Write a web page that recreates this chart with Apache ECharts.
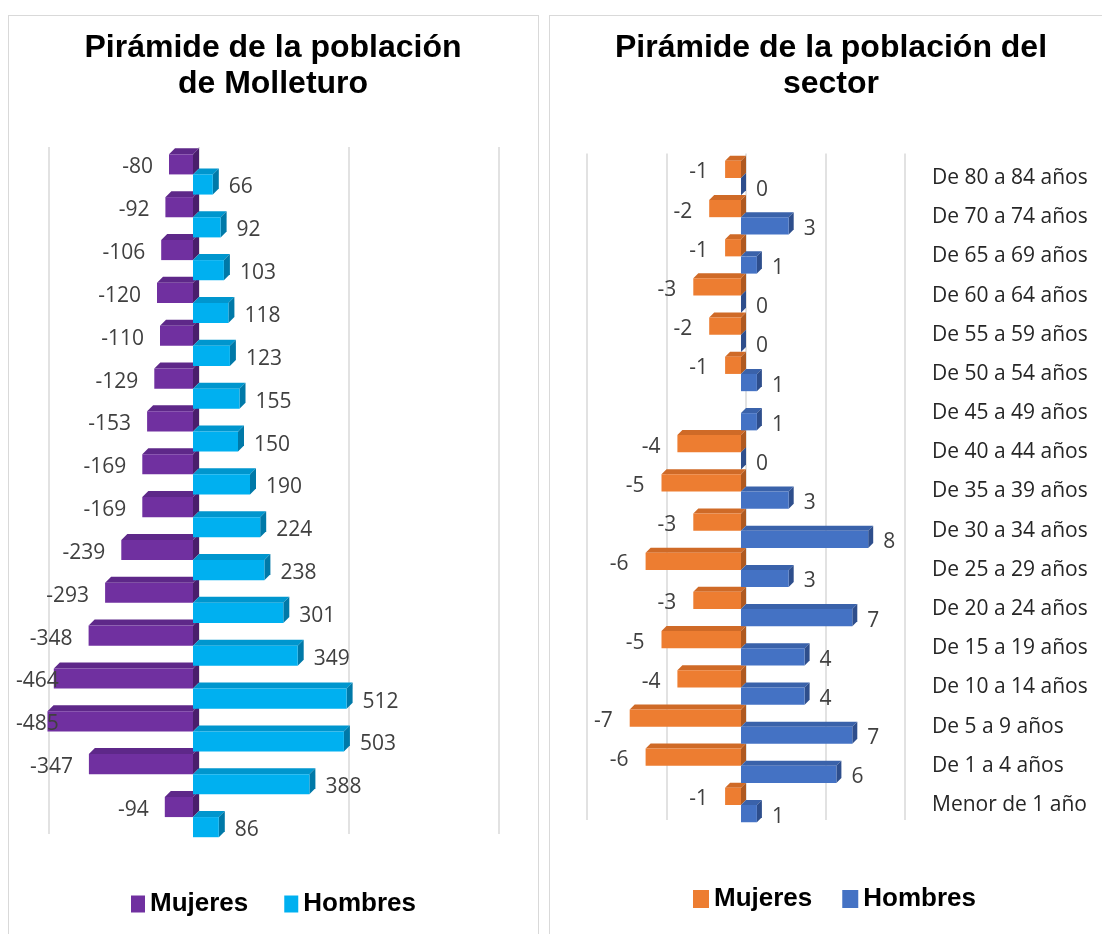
<!DOCTYPE html>
<html>
<head>
<meta charset="UTF-8">
<title>Pirámide de la población</title>
<script src="https://cdn.jsdelivr.net/npm/echarts@6/dist/echarts.min.js"></script>
<style>
  html, body { margin: 0; padding: 0; background: #fff; }
  #main { position: absolute; left: 0; top: 0; width: 1102px; height: 934px; }
  .panel { position: absolute; top: 15px; height: 940px; border: 1.5px solid #d9d9d9; border-bottom: none; box-sizing: border-box; }
</style>
</head>
<body>
<div class="panel" style="left:8px;width:531px;"></div>
<div class="panel" style="left:549px;width:570px;"></div>
<div id="main"></div>

<script>
// ---- datos: Molleturo (arriba -> abajo) ----
var gruposMolleturo = ['70 y más', 'De 65 a 69', 'De 60 a 64', 'De 55 a 59', 'De 50 a 54', 'De 45 a 49',
  'De 40 a 44', 'De 35 a 39', 'De 30 a 34', 'De 25 a 29', 'De 20 a 24', 'De 15 a 19',
  'De 10 a 14', 'De 5 a 9', 'De 1 a 4', 'Menor de 1'];
var mujeresMolleturo = [-80, -92, -106, -120, -110, -129, -153, -169, -169, -239, -293, -348, -464, -485, -347, -94];
var hombresMolleturo = [66, 92, 103, 118, 123, 155, 150, 190, 224, 238, 301, 349, 512, 503, 388, 86];

// ---- datos: sector ----
var gruposSector = ['De 80 a 84 años', 'De 70 a 74 años', 'De 65 a 69 años', 'De 60 a 64 años',
  'De 55 a 59 años', 'De 50 a 54 años', 'De 45 a 49 años', 'De 40 a 44 años', 'De 35 a 39 años',
  'De 30 a 34 años', 'De 25 a 29 años', 'De 20 a 24 años', 'De 15 a 19 años', 'De 10 a 14 años',
  'De 5 a 9 años', 'De 1 a 4 años', 'Menor de 1 año'];
var mujeresSector = [-1, -2, -1, -3, -2, -1, null, -4, -5, -3, -6, -3, -5, -4, -7, -6, -1];
var hombresSector = [0, 3, 1, 0, 0, 1, 1, 0, 3, 8, 3, 7, 4, 4, 7, 6, 1];

var labelFont = '21px "Open Sans"';
var measureCtx = document.createElement('canvas').getContext('2d');
measureCtx.font = labelFont;

// barra con aspecto 3D (cara frontal, superior y lateral)
function barra3d(colors, arriba, ratio, depth, labelGap, minLabelX) {
  return function (params, api) {
    var v = api.value(0);
    if (v === null || isNaN(v)) return;
    var idx = api.value(1);
    var zero = api.coord([0, idx]);
    var end = api.coord([v, idx]);
    var band = api.size([0, 1])[1];
    var h = band * ratio;
    var y0 = arriba ? zero[1] - h : zero[1];
    var y1 = y0 + h;
    var xa = Math.min(zero[0], end[0]);
    var xb = Math.max(zero[0], end[0]);
    var d = depth;

    var texto = String(v);
    var tx, align;
    if (v < 0) {
      tx = xa - labelGap;
      align = 'right';
      var w = measureCtx.measureText(texto).width;
      if (tx - w < minLabelX) { tx = minLabelX; align = 'left'; }
    } else {
      tx = xb + d + labelGap - 6;
      align = 'left';
    }

    return {
      type: 'group',
      children: [
        { type: 'polygon', shape: { points: [[xa, y0], [xb, y0], [xb + d, y0 - d], [xa + d, y0 - d]] },
          style: { fill: colors[1] } },
        { type: 'polygon', shape: { points: [[xb, y0], [xb + d, y0 - d], [xb + d, y1 - d], [xb, y1]] },
          style: { fill: colors[2] } },
        { type: 'rect', shape: { x: xa, y: y0, width: xb - xa, height: h },
          style: { fill: colors[0] } },
        { type: 'text', style: { text: texto, x: tx, y: (y0 + y1) / 2 + 3, align: align,
          verticalAlign: 'middle', fill: '#404040', font: labelFont } }
      ]
    };
  };
}

function pares(arr) {
  return arr.map(function (v, i) { return [v === null ? '-' : v, i]; });
}

var colMujeresM = ['#7030A0', '#5E2889', '#4A1E6C'];
var colHombresM = ['#00B0F0', '#0096CE', '#0079A8'];
var colMujeresS = ['#ED7D31', '#CF6A27', '#AF5920'];
var colHombresS = ['#4472C4', '#3A62AA', '#2E4E8C'];

var tituloStyle = { fontFamily: '"Liberation Sans", Arial', fontWeight: 'bold', fontSize: 32, lineHeight: 36, color: '#000' };
var leyendaStyle = { fontFamily: '"Liberation Sans", Arial', fontWeight: 'bold', fontSize: 26, color: '#000' };
var sinEje = { axisLabel: { show: false }, axisLine: { show: false }, axisTick: { show: false } };
var rejilla = { lineStyle: { color: '#d9d9d9', width: 1.5 } };

var myChart = echarts.init(document.getElementById('main'));

var option = {
  animation: false,
  title: [
    { text: 'Pirámide de la población\nde Molleturo', left: 273, top: 30, textAlign: 'center', padding: 0, textStyle: tituloStyle },
    { text: 'Pirámide de la población del\nsector', left: 831, top: 30, textAlign: 'center', padding: 0, textStyle: tituloStyle }
  ],
  legend: [
    { left: 131, top: 891, padding: 0, itemWidth: 14, itemHeight: 17, itemGap: 36, icon: 'rect', textStyle: leyendaStyle,
      data: [{ name: 'Mujeres', itemStyle: { color: colMujeresM[0] } }, { name: 'Hombres', itemStyle: { color: colHombresM[0] } }] },
    { left: 693, top: 886, padding: 0, itemWidth: 16, itemHeight: 18, itemGap: 30, icon: 'rect', textStyle: leyendaStyle,
      data: [{ name: 'Mujeres', itemStyle: { color: colMujeresS[0] } }, { name: 'Hombres', itemStyle: { color: colHombresS[0] } }] }
  ],
  grid: [
    { left: 43, right: 609, top: 153, bottom: 95.5 },
    { left: 582, right: 202, top: 158.4, bottom: 109.4 },
    // pared del fondo (rejilla desplazada por la profundidad 3D)
    { left: 49, right: 603, top: 147, bottom: 100 },
    { left: 587, right: 197, top: 153.4, bottom: 114 }
  ],
  xAxis: [
    Object.assign({ gridIndex: 0, type: 'value', min: -500, max: 1000, interval: 500, splitLine: { show: false } }, sinEje),
    Object.assign({ gridIndex: 1, type: 'value', min: -10, max: 10, interval: 5, splitLine: { show: false } }, sinEje),
    Object.assign({ gridIndex: 2, type: 'value', min: -500, max: 1000, interval: 500, splitLine: rejilla }, sinEje),
    Object.assign({ gridIndex: 3, type: 'value', min: -10, max: 10, interval: 5, splitLine: rejilla }, sinEje)
  ],
  yAxis: [
    Object.assign({ gridIndex: 0, type: 'category', inverse: true, data: gruposMolleturo }, sinEje),
    { gridIndex: 1, type: 'category', inverse: true, position: 'right', data: gruposSector,
      axisLine: { show: false }, axisTick: { show: false },
      axisLabel: { margin: 32, color: '#262626', fontFamily: '"Open Sans"', fontSize: 21 } },
    Object.assign({ gridIndex: 2, type: 'value', show: false, splitLine: { show: false } }, sinEje),
    Object.assign({ gridIndex: 3, type: 'value', show: false, splitLine: { show: false } }, sinEje)
  ],
  series: [
    { name: 'Mujeres', type: 'custom', xAxisIndex: 0, yAxisIndex: 0, itemStyle: { color: colMujeresM[0] },
      renderItem: barra3d(colMujeresM, true, 0.47, 6, 16, 16), encode: { x: 0, y: 1 }, data: pares(mujeresMolleturo) },
    { name: 'Hombres', type: 'custom', xAxisIndex: 0, yAxisIndex: 0, itemStyle: { color: colHombresM[0] },
      renderItem: barra3d(colHombresM, false, 0.47, 6, 16, 16), encode: { x: 0, y: 1 }, data: pares(hombresMolleturo) },
    { name: 'Mujeres', type: 'custom', xAxisIndex: 1, yAxisIndex: 1, itemStyle: { color: colMujeresS[0] },
      renderItem: barra3d(colMujeresS, true, 0.44, 5, 17, 557), encode: { x: 0, y: 1 }, data: pares(mujeresSector) },
    { name: 'Hombres', type: 'custom', xAxisIndex: 1, yAxisIndex: 1, itemStyle: { color: colHombresS[0] },
      renderItem: barra3d(colHombresS, false, 0.44, 5, 16, 557), encode: { x: 0, y: 1 }, data: pares(hombresSector) }
  ]
};

myChart.setOption(option);
</script>
</body>
</html>
